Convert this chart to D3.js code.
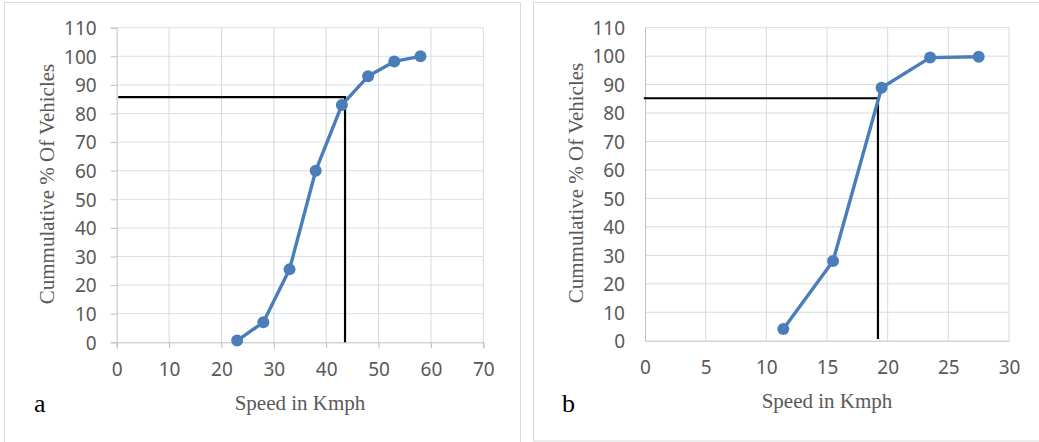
<!DOCTYPE html>
<html>
<head>
<meta charset="utf-8">
<script src="https://cdn.jsdelivr.net/npm/d3@7"></script>
<style>
  body { margin: 0; background: #fff; }
  svg { display: block; }
</style>
</head>
<body>
<svg width="1039" height="442"></svg>
<script>
"use strict";

// panel a data
const speedA = [23, 28, 33, 38, 43, 48, 53, 58];
const cumA = [0.6, 7, 25.5, 60, 83, 93, 98.2, 100];
const refA = [[0.3, 85.7], [43.6, 85.7], [43.6, 0]];
const xTicksA = [0, 10, 20, 30, 40, 50, 60, 70];

// panel b data
const speedB = [11.4, 15.5, 19.5, 23.5, 27.5];
const cumB = [4.1, 28, 88.9, 99.5, 99.8];
const refB = [[-0.1, 85.2], [19.2, 85.2], [19.2, 0.6]];
const xTicksB = [0, 5, 10, 15, 20, 25, 30];

const yTicks = [0, 10, 20, 30, 40, 50, 60, 70, 80, 90, 100, 110];

const svg = d3.select('svg');
const blue = '#4a7ebb';
const tickFont = '"Noto Sans", sans-serif';
const titleFont = '"Liberation Serif", serif';

function panel(opts) {
    const g = svg.append('g');

    g.append('rect')
        .attr('x', opts.box[0]).attr('y', opts.box[1])
        .attr('width', opts.box[2]).attr('height', opts.box[3])
        .attr('fill', 'white')
        .attr('stroke', '#d9d9d9')
        .attr('stroke-width', 1);

    const x = d3.scaleLinear().domain(opts.xDomain).range([opts.left, opts.right]);
    const y = d3.scaleLinear().domain([0, 110]).range([opts.bottom, opts.top]);

    // horizontal grid
    g.append('g').selectAll('line').data(yTicks.slice(1)).join('line')
        .attr('x1', x(opts.xDomain[0])).attr('x2', x(opts.xDomain[1]))
        .attr('y1', d => y(d)).attr('y2', d => y(d))
        .attr('stroke', opts.hGrid).attr('stroke-width', 1);

    // vertical grid
    g.append('g').selectAll('line').data(opts.xTicks.slice(1)).join('line')
        .attr('x1', d => x(d)).attr('x2', d => x(d))
        .attr('y1', y(0)).attr('y2', y(110))
        .attr('stroke', '#d9d9d9').attr('stroke-width', 1);

    const tickLen = opts.ticks ? 6 : 0;

    const xAxis = g.append('g')
        .attr('transform', `translate(0,${y(0)})`)
        .call(d3.axisBottom(x).tickValues(opts.xTicks).tickSize(tickLen).tickPadding(opts.ticks ? 14 : 20));
    const yAxis = g.append('g')
        .attr('transform', `translate(${x(opts.xDomain[0])},0)`)
        .call(d3.axisLeft(y).tickValues(yTicks).tickSize(tickLen).tickPadding(opts.ticks ? 14 : 20));

    [xAxis, yAxis].forEach(ax => {
        ax.select('.domain').attr('stroke', '#bfbfbf');
        ax.selectAll('.tick line').attr('stroke', '#bfbfbf');
        ax.selectAll('.tick text')
            .attr('fill', '#595959')
            .style('font-family', tickFont)
            .style('font-size', '19px');
    });
    yAxis.selectAll('.tick text').attr('dy', '0.36em');

    // reference lines
    g.append('path')
        .datum(opts.ref)
        .attr('fill', 'none')
        .attr('stroke', 'black')
        .attr('stroke-width', 2.2)
        .attr('d', d3.line().x(d => x(d[0])).y(d => y(d[1])));

    const pts = opts.xs.map((d, i) => [d, opts.ys[i]]);

    g.append('path')
        .datum(pts)
        .attr('fill', 'none')
        .attr('stroke', blue)
        .attr('stroke-width', 3.4)
        .attr('stroke-linejoin', 'round')
        .attr('d', d3.line().x(d => x(d[0])).y(d => y(d[1])));

    g.append('g').selectAll('circle').data(pts).join('circle')
        .attr('cx', d => x(d[0])).attr('cy', d => y(d[1]))
        .attr('r', 6)
        .attr('fill', blue);

    // axis titles
    g.append('text')
        .attr('x', opts.xTitle[0]).attr('y', opts.xTitle[1])
        .attr('text-anchor', 'middle')
        .attr('fill', '#595959')
        .style('font-family', titleFont)
        .style('font-size', '21px')
        .text('Speed in Kmph');

    g.append('text')
        .attr('transform', `translate(${opts.yTitle[0]},${opts.yTitle[1]}) rotate(-90)`)
        .attr('text-anchor', 'middle')
        .attr('fill', '#595959')
        .style('font-family', titleFont)
        .style('font-size', '21px')
        .text('Cummulative % Of Vehicles');

    g.append('text')
        .attr('x', opts.tag[0]).attr('y', opts.tag[1])
        .attr('fill', 'black')
        .style('font-family', titleFont)
        .style('font-size', '26px')
        .text(opts.tagText);
}

panel({
    box: [4.5, 2.5, 516, 442],
    xDomain: [0, 70], left: 116.7, right: 483.3,
    top: 27.7, bottom: 342.3,
    xTicks: xTicksA, hGrid: '#d6e0ef', ticks: true,
    xs: speedA, ys: cumA, ref: refA,
    xTitle: [300, 410], yTitle: [54, 184],
    tag: [34, 412], tagText: 'a'
});

panel({
    box: [533.5, 2.5, 510, 438.5],
    xDomain: [0, 30], left: 645, right: 1009,
    top: 27.7, bottom: 340.7,
    xTicks: xTicksB, hGrid: '#d9d9d9', ticks: false,
    xs: speedB, ys: cumB, ref: refB,
    xTitle: [827, 408], yTitle: [583, 183],
    tag: [562, 412], tagText: 'b'
});
</script>
</body>
</html>
